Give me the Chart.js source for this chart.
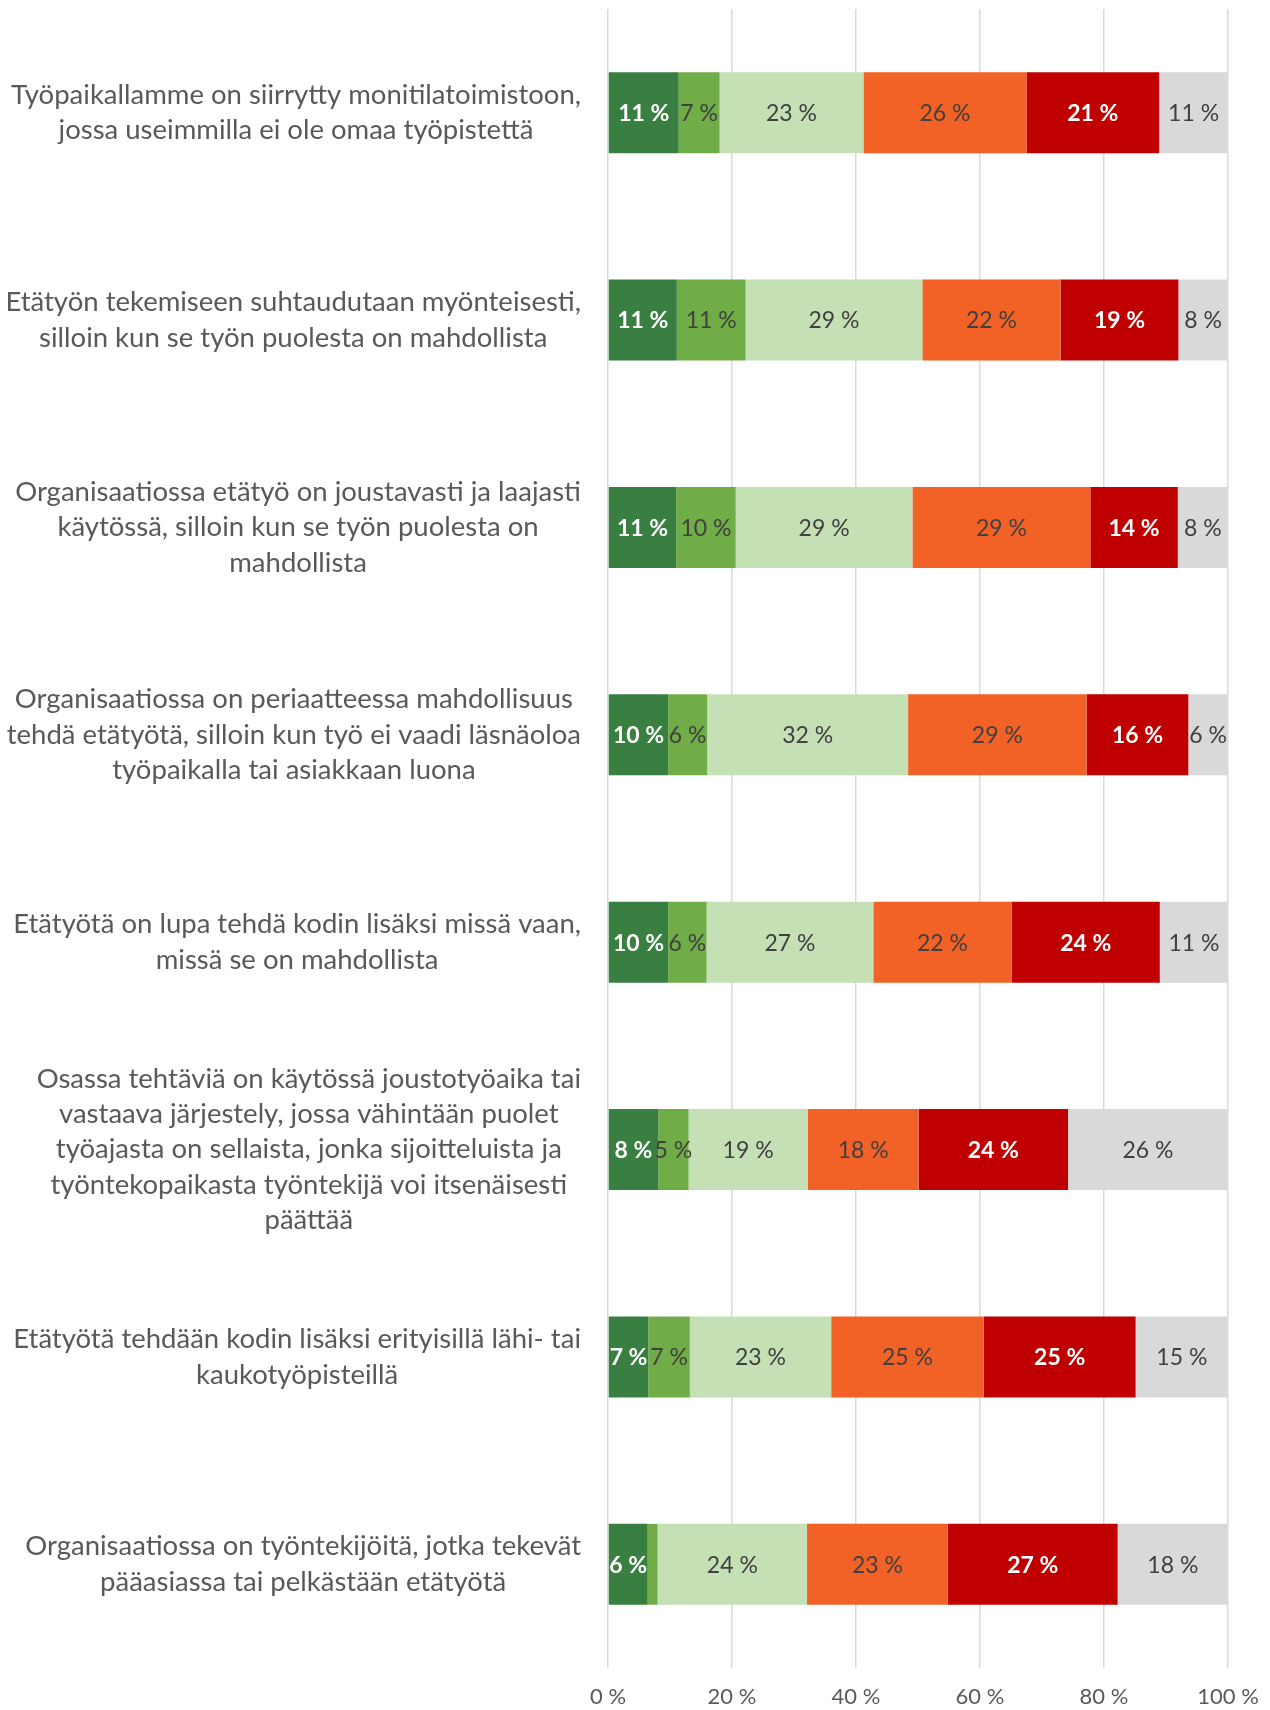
<!DOCTYPE html>
<html>
<head>
    <meta charset="utf-8">
    <title>Etätyö organisaatiossa</title>
    <script src="https://cdn.jsdelivr.net/npm/chart.js"></script>
    <style>
        html, body { margin: 0; padding: 0; background: #ffffff; }
        #chart-container { width: 1270px; height: 1710px; }
    </style>
</head>
<body>
    <div id="chart-container">
        <canvas id="chart" width="1270" height="1710"></canvas>
    </div>

    <script>
        const categories = [
            ["Työpaikallamme on siirrytty monitilatoimistoon,", "jossa useimmilla ei ole omaa työpistettä"],
            ["Etätyön tekemiseen suhtaudutaan myönteisesti,", "silloin kun se työn puolesta on mahdollista"],
            ["Organisaatiossa etätyö on joustavasti ja laajasti", "käytössä, silloin kun se työn puolesta on", "mahdollista"],
            ["Organisaatiossa on periaatteessa mahdollisuus", "tehdä etätyötä, silloin kun työ ei vaadi läsnäoloa", "työpaikalla tai asiakkaan luona"],
            ["Etätyötä on lupa tehdä kodin lisäksi missä vaan,", "missä se on mahdollista"],
            ["Osassa tehtäviä on käytössä joustotyöaika tai", "vastaava järjestely, jossa vähintään puolet", "työajasta on sellaista, jonka sijoitteluista ja", "työntekopaikasta työntekijä voi itsenäisesti", "päättää"],
            ["Etätyötä tehdään kodin lisäksi erityisillä lähi- tai", "kaukotyöpisteillä"],
            ["Organisaatiossa on työntekijöitä, jotka tekevät", "pääasiassa tai pelkästään etätyötä"]
        ];

        // shares in percent, one array per answer group (left to right)
        const series1 = [11.4, 11.1, 11.0, 9.7, 9.7, 8.1, 6.5, 6.4];
        const series2 = [6.6, 11.1, 9.6, 6.3, 6.2, 4.9, 6.7, 1.6];
        const series3 = [23.2, 28.5, 28.5, 32.4, 26.9, 19.2, 22.8, 24.1];
        const series4 = [26.3, 22.3, 28.7, 28.8, 22.3, 17.9, 24.6, 22.7];
        const series5 = [21.4, 19.0, 14.1, 16.4, 23.9, 24.1, 24.5, 27.4];
        const series6 = [11.1, 8.0, 8.1, 6.4, 11.0, 25.8, 14.9, 17.8];

        const xTicks = [0, 20, 40, 60, 80, 100];

        const colors = ["#387f41", "#70ad47", "#c5e0b4", "#f26125", "#c00000", "#d9d9d9"];
        const labelColors = ["#ffffff", "#404040", "#404040", "#404040", "#ffffff", "#404040"];
        const labelBold = [true, false, false, false, true, false];

        const FONT = "Lato, 'Open Sans', sans-serif";

        // value labels in the middle of each segment
        const segmentLabels = {
            id: "segmentLabels",
            afterDatasetsDraw(chart) {
                const ctx = chart.ctx;
                ctx.save();
                ctx.textAlign = "center";
                ctx.textBaseline = "middle";
                chart.data.datasets.forEach((ds, di) => {
                    const meta = chart.getDatasetMeta(di);
                    ctx.font = (labelBold[di] ? "bold " : "") + "23px " + FONT;
                    ctx.fillStyle = labelColors[di];
                    meta.data.forEach((el, i) => {
                        const v = ds.data[i];
                        if (v < 3) return;
                        ctx.fillText(Math.round(v) + " %", (el.x + el.base) / 2, el.y + 1);
                    });
                });
                ctx.restore();
            }
        };

        // category labels: each block right-aligned to the axis, lines centred in the block
        const categoryLabels = {
            id: "categoryLabels",
            afterDraw(chart) {
                const ctx = chart.ctx;
                const y = chart.scales.y;
                const right = chart.chartArea.left - 27;
                const lineH = 35.4;
                ctx.save();
                ctx.font = "27.5px " + FONT;
                ctx.fillStyle = "#595959";
                ctx.textAlign = "center";
                ctx.textBaseline = "middle";
                categories.forEach((lines, i) => {
                    const widest = Math.max(...lines.map(l => ctx.measureText(l).width));
                    const cx = right - widest / 2;
                    const cy = y.getPixelForValue(i);
                    lines.forEach((l, j) => {
                        ctx.fillText(l, cx, cy + (j - (lines.length - 1) / 2) * lineH);
                    });
                });
                ctx.restore();
            }
        };

        const seriesList = [series1, series2, series3, series4, series5, series6];

        const ctx = document.getElementById("chart").getContext("2d");
        const chart = new Chart(ctx, {
            type: "bar",
            data: {
                labels: categories.map(c => c.join(" ")),
                datasets: seriesList.map((s, i) => ({
                    label: "Ryhmä " + (i + 1),
                    data: s,
                    backgroundColor: colors[i],
                    borderWidth: 0,
                    categoryPercentage: 1,
                    barPercentage: 0.39
                }))
            },
            options: {
                indexAxis: "y",
                responsive: false,
                animation: false,
                layout: {
                    padding: { left: 0, right: 42, top: 9, bottom: 0 }
                },
                plugins: {
                    legend: { display: false },
                    tooltip: { enabled: false }
                },
                scales: {
                    x: {
                        stacked: true,
                        min: 0,
                        max: 100,
                        afterBuildTicks(scale) {
                            scale.ticks = xTicks.map(v => ({ value: v }));
                        },
                        afterFit(scale) {
                            scale.height = 42;
                            scale.paddingLeft = 0;
                            scale.paddingRight = 0;
                        },
                        grid: {
                            color: "#d9d9d9",
                            lineWidth: 1.5,
                            drawTicks: false
                        },
                        border: { display: false },
                        ticks: {
                            padding: 16,
                            color: "#595959",
                            font: { family: FONT, size: 22 },
                            callback: v => v + " %"
                        }
                    },
                    y: {
                        stacked: true,
                        afterFit(scale) {
                            scale.width = 608;
                        },
                        grid: { display: false, drawTicks: false },
                        border: { display: false },
                        ticks: { display: false }
                    }
                }
            },
            plugins: [segmentLabels, categoryLabels]
        });
    </script>
</body>
</html>
